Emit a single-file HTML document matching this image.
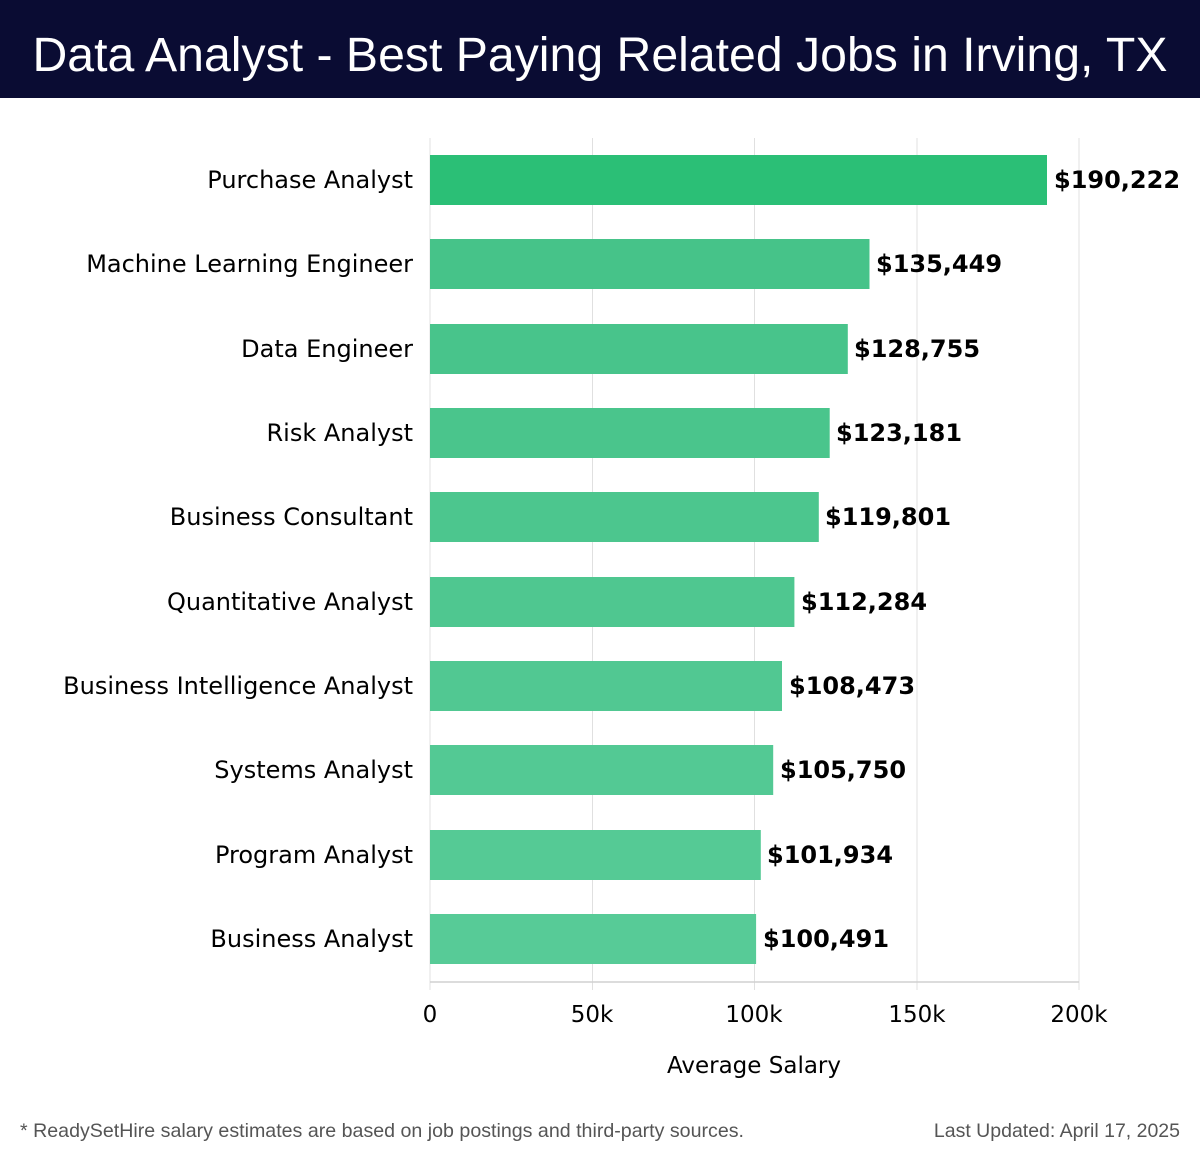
<!DOCTYPE html>
<html><head><meta charset="utf-8"><style>
body{margin:0;width:1200px;height:1158px;background:#fff;overflow:hidden;font-family:"DejaVu Sans","Liberation Sans",sans-serif}
</style></head><body>
<svg width="1200" height="1158" xmlns="http://www.w3.org/2000/svg">
<rect x="0" y="0" width="1200" height="98" fill="#0a0c33"/>
<text x="600" y="71" text-anchor="middle" fill="#fff" font-family="Liberation Sans,sans-serif" font-size="48" textLength="1135" lengthAdjust="spacingAndGlyphs">Data Analyst - Best Paying Related Jobs in Irving, TX</text>
<g stroke="#e0e0e0" stroke-width="1">
<line x1="430" y1="138" x2="430" y2="990"/><line x1="592.5" y1="138" x2="592.5" y2="990"/><line x1="754.5" y1="138" x2="754.5" y2="990"/><line x1="917" y1="138" x2="917" y2="990"/><line x1="1079" y1="138" x2="1079" y2="990"/>
</g>
<line x1="430" y1="982" x2="1079" y2="982" stroke="#d0d0d0" stroke-width="1.5"/>
<g font-size="23" fill="#000" text-anchor="middle">
<text x="430" y="1022">0</text><text x="592" y="1022">50k</text><text x="754" y="1022">100k</text><text x="917" y="1022">150k</text><text x="1079" y="1022">200k</text>
<text x="754" y="1073">Average Salary</text>
</g>
<g>
<rect x="430" y="155" width="617" height="50" fill="#2bbf76"/>
<rect x="430" y="239" width="439.5" height="50" fill="#46c389"/>
<rect x="430" y="324" width="417.8" height="50" fill="#48c48b"/>
<rect x="430" y="408" width="399.7" height="50" fill="#4ac58c"/>
<rect x="430" y="492" width="388.8" height="50" fill="#4cc68e"/>
<rect x="430" y="577" width="364.4" height="50" fill="#4fc790"/>
<rect x="430" y="661" width="352" height="50" fill="#51c892"/>
<rect x="430" y="745" width="343.2" height="50" fill="#53c994"/>
<rect x="430" y="830" width="330.8" height="50" fill="#55ca95"/>
<rect x="430" y="914" width="326.1" height="50" fill="#57cb97"/>
</g>
<g font-size="24" fill="#000" text-anchor="end">
<text x="413" y="188">Purchase Analyst</text>
<text x="413" y="272">Machine Learning Engineer</text>
<text x="413" y="357">Data Engineer</text>
<text x="413" y="441">Risk Analyst</text>
<text x="413" y="525">Business Consultant</text>
<text x="413" y="610">Quantitative Analyst</text>
<text x="413" y="694">Business Intelligence Analyst</text>
<text x="413" y="778">Systems Analyst</text>
<text x="413" y="863">Program Analyst</text>
<text x="413" y="947">Business Analyst</text>
</g>
<g font-size="24" font-weight="bold" fill="#000">
<text x="1054" y="188">$190,222</text>
<text x="876" y="272">$135,449</text>
<text x="854" y="357">$128,755</text>
<text x="836" y="441">$123,181</text>
<text x="825" y="525">$119,801</text>
<text x="801" y="610">$112,284</text>
<text x="789" y="694">$108,473</text>
<text x="780" y="778">$105,750</text>
<text x="767" y="863">$101,934</text>
<text x="763" y="947">$100,491</text>
</g>
<g font-family="Liberation Sans,sans-serif" font-size="19.5" fill="#555">
<text x="20" y="1137" textLength="724" lengthAdjust="spacingAndGlyphs">* ReadySetHire salary estimates are based on job postings and third-party sources.</text>
<text x="1180" y="1137" text-anchor="end">Last Updated: April 17, 2025</text>
</g>
</svg>
</body></html>
